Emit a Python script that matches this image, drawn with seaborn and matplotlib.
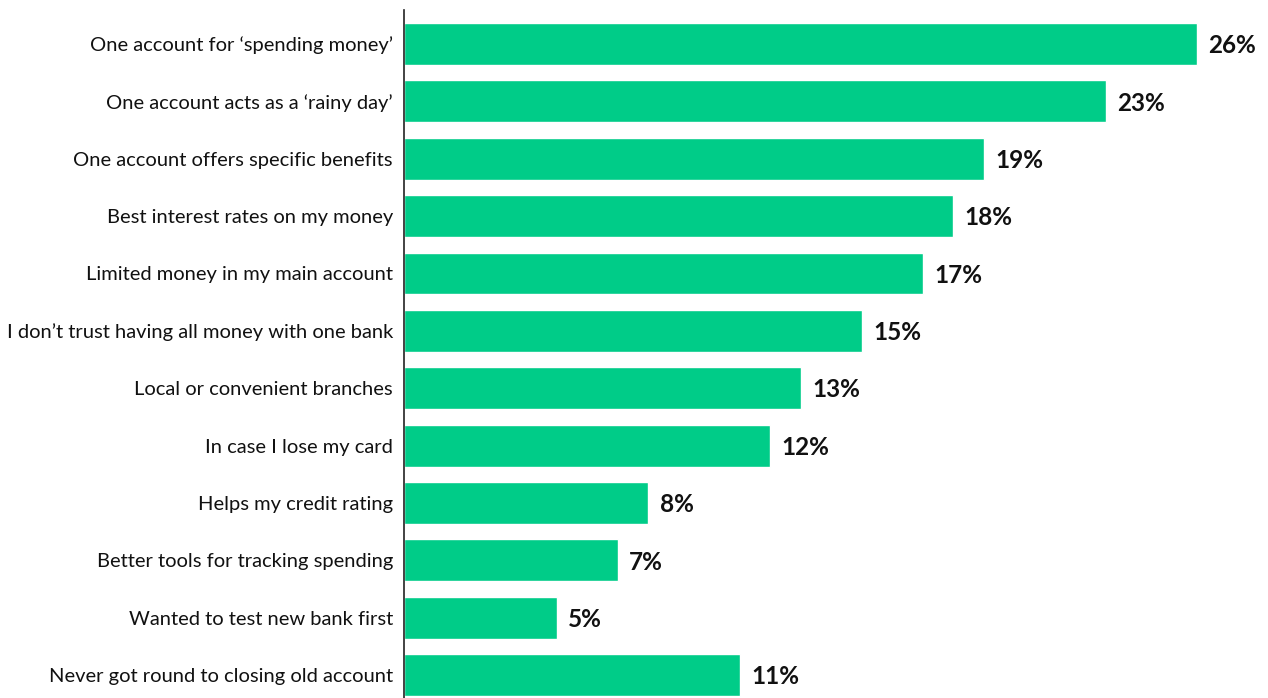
import matplotlib
matplotlib.use("Agg")
import matplotlib.pyplot as plt
import seaborn as sns
import pandas as pd

reasons = [
    "One account for \u2018spending money\u2019",
    "One account acts as a \u2018rainy day\u2019",
    "One account offers specific benefits",
    "Best interest rates on my money",
    "Limited money in my main account",
    "I don\u2019t trust having all money with one bank",
    "Local or convenient branches",
    "In case I lose my card",
    "Helps my credit rating",
    "Better tools for tracking spending",
    "Wanted to test new bank first",
    "Never got round to closing old account",
]
shares = [26, 23, 19, 18, 17, 15, 13, 12, 8, 7, 5, 11]

df = pd.DataFrame({"reason": reasons, "share": shares})

sns.set_theme(style="white")
plt.rcParams["font.family"] = ["Lato", "DejaVu Sans"]

fig = plt.figure(figsize=(12.68, 6.98), dpi=100)
ax = fig.add_axes([404 / 1268, 0.0, 1 - 404 / 1268, 1 - 10 / 698])

sns.barplot(data=df, x="share", y="reason", orient="h", color="#00CC88",
            saturation=1, width=0.73, ax=ax)

for i, v in enumerate(shares):
    ax.text(v + 0.38, i + 0.03, f"{v}%", va="center", ha="left",
            fontsize=17.5, fontweight="bold", color="#111111")

ax.set_xlim(0, 864 / 30.5)
ax.set_ylim(11.40, -0.593)
ax.set_xlabel("")
ax.set_ylabel("")
ax.set_xticks([])
ax.tick_params(axis="y", length=0, pad=8, labelsize=14.5, labelcolor="#111111")
for lbl in ax.get_yticklabels():
    lbl.set_y(lbl.get_position()[1])
for side in ["top", "right", "bottom"]:
    ax.spines[side].set_visible(False)
ax.spines["left"].set_color("#222222")
ax.spines["left"].set_linewidth(1.2)

fig.savefig("out.png", dpi=100)
